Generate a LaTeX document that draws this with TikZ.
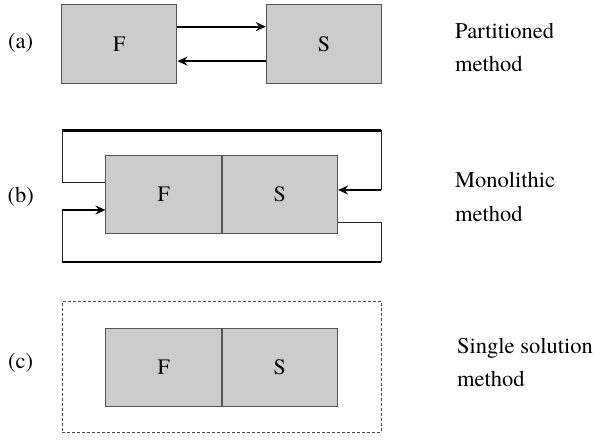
\documentclass[tikz,border=0pt]{standalone}
\usepackage{fontspec}
\setmainfont{texgyretermes-regular.otf}
\usetikzlibrary{arrows.meta}
\definecolor{boxfill}{HTML}{CCCCCC}
\definecolor{boxline}{HTML}{555555}
\tikzset{
  blk/.style={draw=boxline, fill=boxfill, line width=1pt, minimum width=115.5pt, minimum height=78.3pt, inner sep=0pt, font=\rmfamily\fontsize{22}{26}\selectfont},
  lbl/.style={inner sep=0pt, font=\rmfamily\fontsize{22.5}{26}\selectfont},
  txt/.style={inner sep=0pt, anchor=base west, font=\rmfamily\fontsize{22.5}{26}\selectfont},
  thickln/.style={line width=2.2pt, black},
  thinln/.style={line width=0.9pt, black!85},
  arr/.style={line width=2.2pt, black, -{Stealth[length=10pt, width=9pt, inset=3.5pt]}},
  dashbox/.style={draw=black!70, line width=1pt, dash pattern=on 3pt off 2pt}
}
\begin{document}
\begin{tikzpicture}[x=1pt,y=-1pt]
\useasboundingbox (0,0) rectangle (594,441);
% (a)
\node[lbl] (la) at (20.7,43) {(a)};
\node[blk] (Fa) at (119.2,44.15) {F};
\node[blk] (Sa) at (324,44.15) {S};
\draw[arr] ([yshift=17.5pt]Fa.east) -- ([yshift=17.5pt]Sa.west);
\draw[arr] ([yshift=-17pt]Sa.west) -- ([yshift=-17pt]Fa.east);
\node[txt] (ta1) at (455,38.3) {Partitioned};
\node[txt] (ta2) at (455,71.7) {method};
% (b)
\node[lbl] (lb) at (20.7,196.7) {(b)};
\node[blk] (Fb) at (163.65,194.15) {F};
\node[blk] (Sb) at (279.8,194.15) {S};
\coordinate (tl) at (62,130.5);
\coordinate (tr) at (381,130.5);
\coordinate (bl) at (62,261.7);
\coordinate (br) at (381,261.7);
\coordinate (ra) at (381,190);
\coordinate (la2) at (62,210);
\draw[thinln] (tl) |- ([yshift=12.15pt]Fb.west);
\draw[thinln] (tr) -- (ra);
\draw[thinln] (la2) -- (bl);
\draw[thinln] (br) |- ([yshift=-28.15pt]Sb.east);
\draw[thickln] (tl) -- (tr);
\draw[thickln] (bl) -- (br);
\draw[arr] (ra) -- (ra -| Sb.east);
\draw[arr] (la2) -- (la2 -| Fb.west);
\node[txt] (tb1) at (455,187.3) {Monolithic};
\node[txt] (tb2) at (455,221.7) {method};
% (c)
\node[lbl] (lc) at (20.7,363.3) {(c)};
\node[dashbox, minimum width=319pt, minimum height=130.6pt, inner sep=0pt] (dc) at (221.5,367) {};
\node[blk] (Fc) at (163.65,367.5) {F};
\node[blk] (Sc) at (279.8,367.5) {S};
\node[txt] (tc1) at (457,353) {Single solution};
\node[txt] (tc2) at (457,386.7) {method};
\end{tikzpicture}
\end{document}
